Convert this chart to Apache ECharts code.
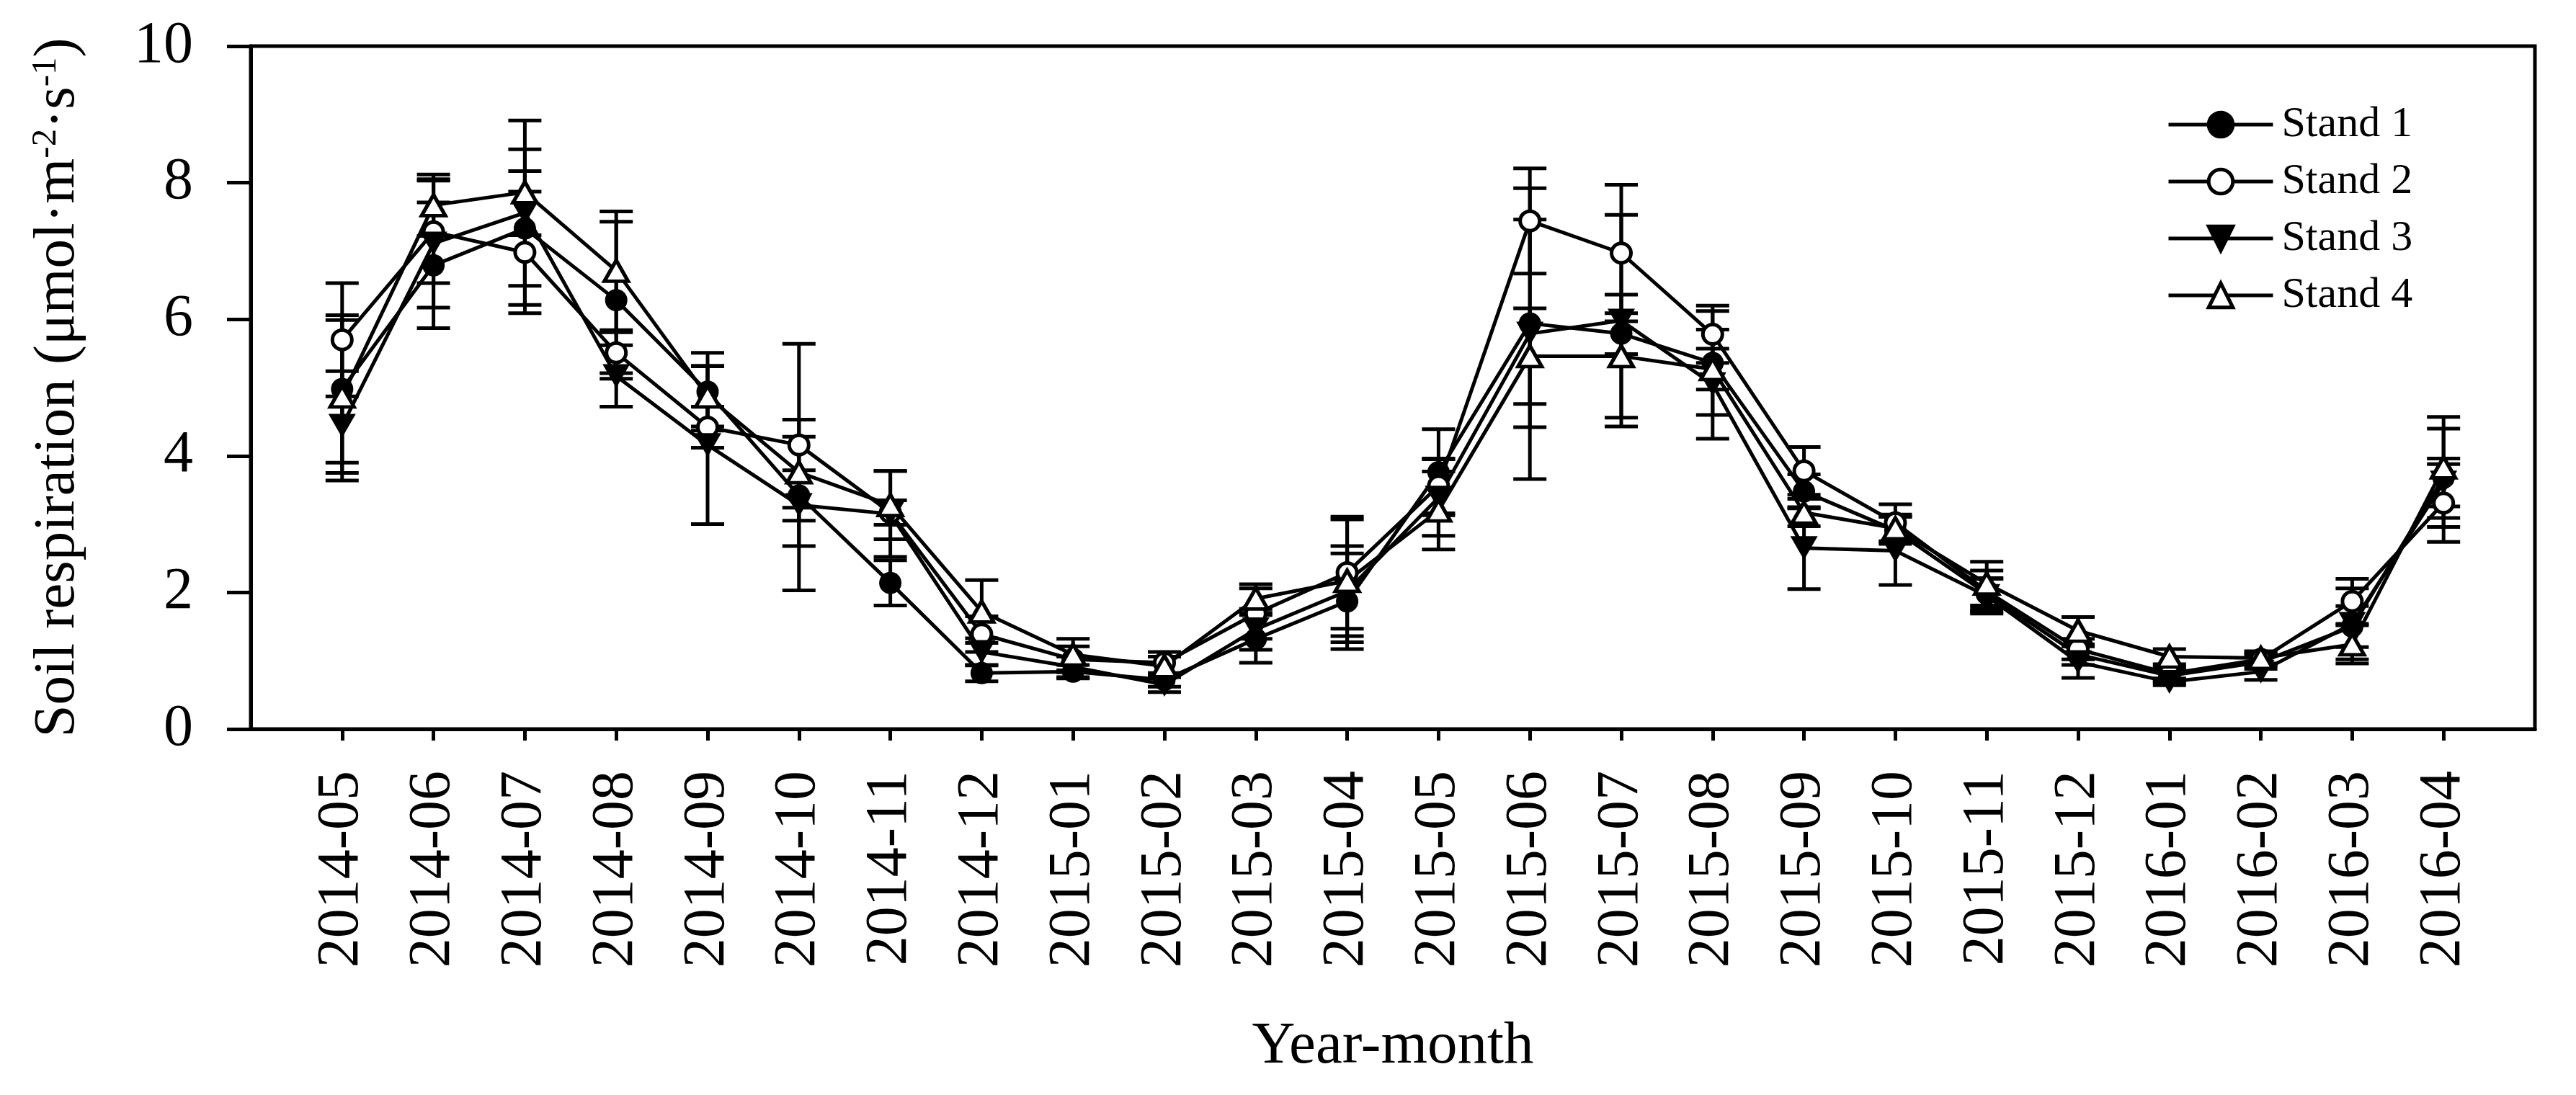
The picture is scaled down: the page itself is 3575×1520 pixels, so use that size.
<!DOCTYPE html>
<html>
<head>
<meta charset="utf-8">
<script src="https://cdn.jsdelivr.net/npm/echarts@6.0.0/dist/echarts.min.js"></script>
<style>
html,body{margin:0;padding:0;background:#fff;}
#chart{width:3575px;height:1520px;}
</style>
</head>
<body>
<div id="chart"></div>
<script>
var categories = ['2014-05','2014-06','2014-07','2014-08','2014-09','2014-10','2014-11','2014-12','2015-01','2015-02','2015-03','2015-04','2015-05','2015-06','2015-07','2015-08','2015-09','2015-10','2015-11','2015-12','2016-01','2016-02','2016-03','2016-04'];

var stand1 = [4.98, 6.79, 7.33, 6.28, 4.94, 3.42, 2.14, 0.82, 0.84, 0.72, 1.32, 1.87, 3.76, 5.94, 5.79, 5.36, 3.48, 2.91, 1.98, 1.09, 0.78, 0.98, 1.50, 3.68];
var stand1Err = [1.08, 0.92, 0.84, 1.15, 0.57, 0.37, 0.33, 0.12, 0.10, 0.10, 0.35, 0.70, 0.63, 1.52, 0.30, 0.76, 0.25, 0.20, 0.22, 0.15, 0.10, 0.10, 0.30, 0.72];

var stand2 = [5.70, 7.28, 6.98, 5.51, 4.42, 4.16, 3.17, 1.39, 1.02, 0.97, 1.69, 2.29, 3.56, 7.44, 6.97, 5.78, 3.78, 3.02, 2.02, 1.17, 0.81, 1.02, 1.87, 3.31];
var stand2Err = [0.83, 0.75, 0.89, 0.30, 0.30, 1.48, 0.18, 0.26, 0.19, 0.16, 0.37, 0.82, 0.40, 0.77, 1.00, 0.42, 0.35, 0.27, 0.30, 0.15, 0.10, 0.09, 0.33, 0.57];

var stand3 = [4.44, 7.11, 7.56, 5.17, 4.16, 3.28, 3.15, 1.13, 0.91, 0.65, 1.46, 2.02, 3.39, 5.79, 5.98, 5.05, 2.65, 2.61, 1.95, 0.98, 0.69, 0.84, 1.54, 3.61];
var stand3Err = [0.80, 0.94, 1.35, 0.45, 1.16, 1.25, 0.63, 0.20, 0.15, 0.11, 0.30, 0.66, 0.56, 2.13, 1.55, 0.80, 0.60, 0.50, 0.26, 0.23, 0.05, 0.12, 0.52, 0.35];

var stand4 = [4.87, 7.67, 7.86, 6.71, 4.87, 3.76, 3.28, 1.72, 1.09, 0.92, 1.91, 2.17, 3.20, 5.46, 5.46, 5.27, 3.17, 2.94, 2.13, 1.44, 1.06, 1.04, 1.24, 3.83];
var stand4Err = [1.12, 0.45, 0.63, 0.87, 0.44, 0.52, 0.50, 0.46, 0.23, 0.14, 0.21, 0.90, 0.57, 0.70, 0.90, 0.30, 0.20, 0.20, 0.32, 0.20, 0.11, 0.10, 0.28, 0.74];

var seriesNames = ['Stand 1', 'Stand 2', 'Stand 3', 'Stand 4'];
var yTicks = [0, 2, 4, 6, 8, 10];

var FONT = "'Liberation Serif', 'Times New Roman', serif";
var BLACK = '#000';
var LW = 5;

var values = [stand1, stand2, stand3, stand4];
var errors = [stand1Err, stand2Err, stand3Err, stand4Err];

var symbolDefs = [
  { symbol: 'circle', size: 31, fill: BLACK, border: 0 },
  { symbol: 'circle', size: 27, fill: '#fff', border: LW },
  { symbol: 'path://M0,0L10,0L5,8.7Z', size: [38, 33], fill: BLACK, border: 0 },
  { symbol: 'triangle', size: [33, 29], fill: '#fff', border: LW }
];

var tickIdx = categories.map(function (c, i) { return i; });

function errRender(params, api) {
  var x = api.value(0), y = api.value(1), e = api.value(2);
  var top = api.coord([x, y + e]);
  var bot = api.coord([x, y - e]);
  var half = 23;
  var st = { stroke: BLACK, lineWidth: LW };
  return {
    type: 'group',
    children: [
      { type: 'line', shape: { x1: top[0], y1: top[1], x2: bot[0], y2: bot[1] }, style: st },
      { type: 'line', shape: { x1: top[0] - half, y1: top[1], x2: top[0] + half, y2: top[1] }, style: st },
      { type: 'line', shape: { x1: bot[0] - half, y1: bot[1], x2: bot[0] + half, y2: bot[1] }, style: st }
    ]
  };
}

var series = [];
values.forEach(function (vals, s) {
  series.push({
    name: seriesNames[s] + ' SE',
    type: 'custom',
    renderItem: errRender,
    data: vals.map(function (v, i) { return [i, v, errors[s][i]]; }),
    z: 2,
    silent: true
  });
});
values.forEach(function (vals, s) {
  var d = symbolDefs[s];
  series.push({
    name: seriesNames[s],
    type: 'line',
    data: vals.map(function (v, i) { return [i, v]; }),
    symbol: d.symbol,
    symbolSize: d.size,
    showAllSymbol: true,
    lineStyle: { color: BLACK, width: LW },
    itemStyle: { color: d.fill, borderColor: BLACK, borderWidth: d.border },
    z: 3,
    silent: true
  });
});

var chart = echarts.init(document.getElementById('chart'));
chart.setOption({
  animation: false,
  backgroundColor: '#fff',
  grid: {
    left: 348, right: 57, top: 64, bottom: 508,
    show: true, borderColor: BLACK, borderWidth: LW, backgroundColor: 'transparent'
  },
  legend: {
    data: seriesNames,
    orient: 'vertical',
    left: 3007, top: 143,
    padding: 0,
    itemWidth: 145, itemHeight: 42, itemGap: 19,
    selectedMode: false,
    itemStyle: { borderWidth: LW, borderColor: BLACK },
    lineStyle: { width: LW, color: BLACK },
    textStyle: { fontFamily: FONT, fontSize: 60, color: BLACK, padding: [0, 0, 0, 7] }
  },
  xAxis: {
    type: 'value',
    min: -1, max: 24, interval: 1,
    name: 'Year-month',
    nameLocation: 'middle',
    nameGap: 400,
    nameTextStyle: { fontFamily: FONT, fontSize: 83, color: BLACK },
    axisLine: { show: true, onZero: false, lineStyle: { color: BLACK, width: LW } },
    axisTick: { show: true, inside: false, length: 16, customValues: tickIdx, lineStyle: { color: BLACK, width: LW } },
    axisLabel: {
      customValues: tickIdx,
      rotate: 90, margin: 58,
      fontFamily: FONT, fontSize: 82, color: BLACK,
      formatter: function (v) { return categories[v] || ''; }
    },
    splitLine: { show: false }
  },
  yAxis: {
    type: 'value',
    min: yTicks[0], max: yTicks[yTicks.length - 1], interval: 2,
    name: 'Soil respiration (μmol·m{sup|-2}·s{sup|-1})',
    nameLocation: 'middle',
    nameGap: 227,
    nameTextStyle: {
      fontFamily: FONT, fontSize: 81, color: BLACK,
      rich: { sup: { fontFamily: FONT, fontSize: 49, color: BLACK, verticalAlign: 'top' } }
    },
    axisLine: { show: true, onZero: false, lineStyle: { color: BLACK, width: LW } },
    axisTick: { show: true, inside: false, length: 33, lineStyle: { color: BLACK, width: LW } },
    axisLabel: { margin: 80, fontFamily: FONT, fontSize: 82, color: BLACK },
    splitLine: { show: false }
  },
  series: series
});
</script>
</body>
</html>
